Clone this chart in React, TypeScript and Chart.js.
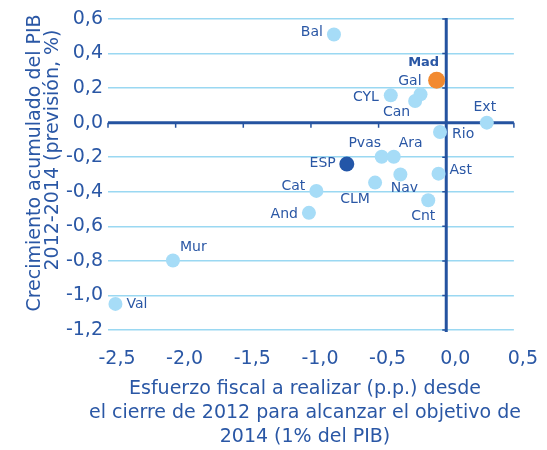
import React, { useEffect, useRef } from "react";
import { Chart, registerables } from "chart.js";

Chart.register(...registerables);

const regionNames = ["Bal", "Gal", "Can", "CYL", "Ext", "Rio", "Pvas", "Ara", "Nav", "Ast", "CLM", "Cat", "Cnt", "And", "Mur", "Val"];
const regionX = [-0.83, -0.19, -0.23, -0.41, 0.3, -0.046, -0.477, -0.388, -0.339, -0.057, -0.526, -0.96, -0.133, -1.015, -2.02, -2.445];
const regionY = [0.51, 0.164, 0.125, 0.158, 0.0, -0.054, -0.197, -0.197, -0.3, -0.295, -0.347, -0.395, -0.449, -0.522, -0.798, -1.049];
const espX = [-0.735];
const espY = [-0.239];
const madX = [-0.071];
const madY = [0.246];

const xTitle = ["Esfuerzo fiscal a realizar (p.p.) desde", "el cierre de 2012 para alcanzar el objetivo de", "2014 (1% del PIB)"];
const yTitle = ["Crecimiento acumulado del PIB", "2012-2014 (previsión, %)"];

// label placement styles: [dx, dy, align]
const labelStyle: Record<string, [number, number, CanvasTextAlign]> = {
  Bal: [-11, -2, "right"],
  Gal: [1, -13, "right"],
  Can: [-5, 11, "right"],
  CYL: [-12, 2, "right"],
  Ext: [-2, -15, "center"],
  Rio: [12, 2, "left"],
  Pvas: [-17, -13, "center"],
  Ara: [17, -13, "center"],
  Nav: [4, 14, "center"],
  Ast: [11, -3, "left"],
  CLM: [-20, 17, "center"],
  Cat: [-11, -5, "right"],
  Cnt: [-5, 16, "center"],
  And: [-11, 2, "right"],
  Mur: [7, -13, "left"],
  Val: [11, 0, "left"],
  ESP: [-11, -1, "right"],
  Mad: [-13, -18, "center"],
};

const TEXT = "#2a57a5";
const AXIS = "#2553a0";
const GRID = "#9ad8f2";
const LIGHT = "#a6dcf7";
const FONT = "'DejaVu Sans', sans-serif";

const fmt = (v: number) => v.toFixed(1).replace(".", ",");

const axesPlugin = {
  id: "zeroAxes",
  beforeDatasetsDraw(chart: any) {
    const { ctx, chartArea, scales } = chart;
    const x0 = scales.x.getPixelForValue(0);
    const y0 = scales.y.getPixelForValue(0);
    ctx.save();
    ctx.strokeStyle = AXIS;
    ctx.lineWidth = 3;
    ctx.beginPath();
    ctx.moveTo(chartArea.left, y0);
    ctx.lineTo(chartArea.right, y0);
    ctx.moveTo(x0, chartArea.top - 1);
    ctx.lineTo(x0, chartArea.bottom + 2);
    ctx.stroke();
    ctx.lineWidth = 1.5;
    ctx.beginPath();
    scales.x.ticks.forEach((t: any) => {
      const px = scales.x.getPixelForValue(t.value);
      ctx.moveTo(px, y0);
      ctx.lineTo(px, y0 + 5);
    });
    scales.y.ticks.forEach((t: any) => {
      const py = scales.y.getPixelForValue(t.value);
      ctx.moveTo(x0, py);
      ctx.lineTo(x0 - 4, py);
    });
    ctx.stroke();
    ctx.restore();
  },
  afterDatasetsDraw(chart: any) {
    const { ctx } = chart;
    ctx.save();
    ctx.fillStyle = TEXT;
    ctx.textBaseline = "middle";
    chart.data.datasets.forEach((ds: any, di: number) => {
      const meta = chart.getDatasetMeta(di);
      meta.data.forEach((el: any, i: number) => {
        const name = ds.names[i];
        const st = labelStyle[name];
        ctx.font = name === "Mad" ? "bold 13px " + FONT : "14px " + FONT;
        ctx.textAlign = st[2];
        ctx.fillText(name, el.x + st[0], el.y + st[1]);
      });
    });
    // axis titles
    ctx.textAlign = "center";
    ctx.textBaseline = "alphabetic";
    ctx.font = "19px " + FONT;
    const lineY = [394, 418, 442];
    xTitle.forEach((t, i) => ctx.fillText(t, 305, lineY[i]));
    const lineX = [39.5, 57.5];
    const lineC = [163, 150];
    yTitle.forEach((t, i) => {
      ctx.save();
      ctx.translate(lineX[i], lineC[i]);
      ctx.rotate(-Math.PI / 2);
      ctx.fillText(t, 0, 0);
      ctx.restore();
    });
    ctx.restore();
  },
};

export default function App() {
  const ref = useRef<HTMLCanvasElement>(null);
  useEffect(() => {
    const toPts = (xs: number[], ys: number[]) => xs.map((x, i) => ({ x, y: ys[i] }));
    const chart = new Chart(ref.current!, {
      type: "scatter",
      data: {
        datasets: [
          { names: regionNames, data: toPts(regionX, regionY), backgroundColor: LIGHT, borderWidth: 0, pointRadius: 7 } as any,
          { names: ["ESP"], data: toPts(espX, espY), backgroundColor: "#2356a8", borderWidth: 0, pointRadius: 7.5 } as any,
          { names: ["Mad"], data: toPts(madX, madY), backgroundColor: "#f28a30", borderWidth: 0, pointRadius: 8.5 } as any,
        ],
      },
      options: {
        responsive: false,
        animation: false,
        devicePixelRatio: 1,
        layout: { padding: { top: 19, right: 32, left: 0, bottom: 0 } },
        plugins: { legend: { display: false }, tooltip: { enabled: false } },
        scales: {
          x: {
            type: "linear",
            min: -2.5,
            max: 0.5,
            ticks: { stepSize: 0.5, color: TEXT, font: { size: 19, family: FONT }, padding: 18, labelOffset: 9, callback: (v: any) => fmt(Number(v)) },
            grid: { display: false, drawTicks: false },
            border: { display: false },
            afterFit: (s: any) => { s.height = 120; },
          },
          y: {
            min: -1.2,
            max: 0.6,
            ticks: { stepSize: 0.2, color: TEXT, font: { size: 19, family: FONT }, padding: 5, callback: (v: any) => fmt(Number(v)) },
            grid: { color: GRID, lineWidth: 1.5, drawTicks: false },
            border: { display: false },
            afterFit: (s: any) => { s.width = 108; },
          },
        },
      },
      plugins: [axesPlugin],
    });
    return () => chart.destroy();
  }, []);
  return (
    <div style={{ position: "fixed", left: 0, top: 0, width: 547, height: 450, background: "#fff" }}>
      <canvas ref={ref} width={547} height={450} style={{ display: "block" }} />
    </div>
  );
}
